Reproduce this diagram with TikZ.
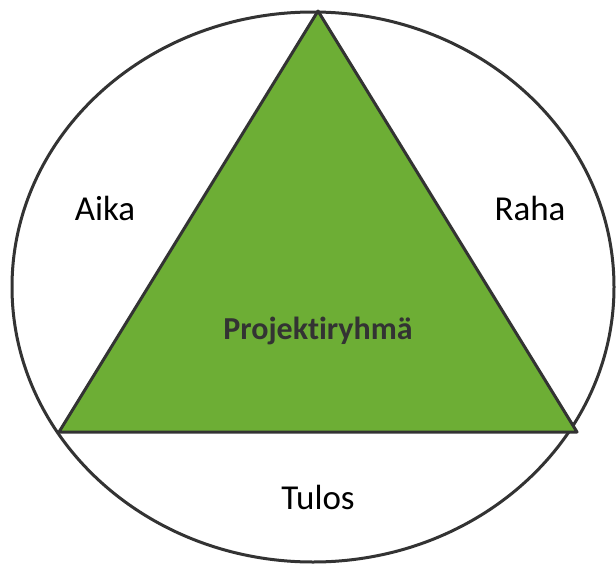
\documentclass[tikz,border=0pt]{standalone}
\usepackage{fontspec}
\setmainfont{Carlito}[Ligatures=NoCommon]
\definecolor{tri}{HTML}{6DAE35}
\definecolor{edge}{HTML}{333333}
\begin{document}
\begin{tikzpicture}[x=1pt,y=-1pt,
  lbl/.style={font=\fontsize{35}{40}\selectfont, text=black},
  outline/.style={draw=edge, line width=3pt}]
\useasboundingbox[fill=white] (0,0) rectangle (616,565);
\draw[outline] (313,287) ellipse [x radius=301, y radius=275];
\coordinate (apex) at (318,11);
\coordinate (bl) at (59,432);
\coordinate (br) at (577,432);
\filldraw[outline, fill=tri, line join=round] (apex) -- (br) -- (bl) -- cycle;
\node[lbl] (aika) at (105,208) {Aika};
\node[lbl] (raha) at (530,208) {Raha};
\node[lbl] (tulos) at (318,497) {Tulos};
\node[font=\fontsize{32}{38}\selectfont\bfseries, text=edge] (proj) at (318,331) {Projektiryhmä};
\end{tikzpicture}
\end{document}
